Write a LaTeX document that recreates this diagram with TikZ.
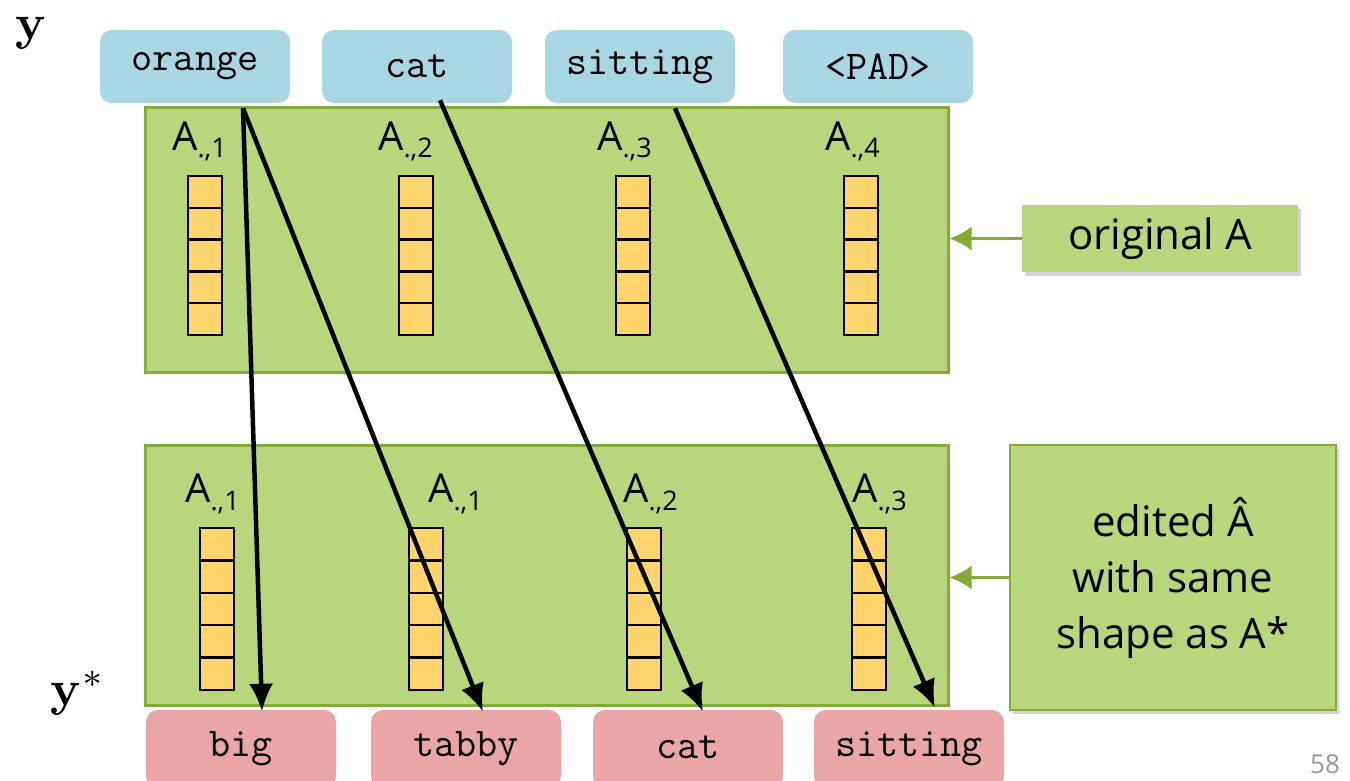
\documentclass[tikz,border=0pt]{standalone}
\usepackage[no-math]{fontspec}
\setmainfont{Open Sans}
\usetikzlibrary{arrows.meta,positioning,shadows}
\definecolor{tokenBlue}{RGB}{169,215,225}
\definecolor{tokenPink}{RGB}{234,166,167}
\definecolor{slideGreen}{RGB}{186,214,125}
\definecolor{edgeGreen}{RGB}{134,170,55}
\definecolor{cellYellow}{RGB}{255,212,108}
\definecolor{pageGray}{RGB}{150,150,150}
\newcommand{\colA}[1]{A\raisebox{-8pt}{\fontsize{27}{27}\selectfont .,#1}}

\begin{document}
\begin{tikzpicture}[x=1pt,y=-1pt,
    token/.style={rounded corners=12pt, minimum width=190pt, minimum height=73pt,
      inner sep=0pt, font=\ttfamily\fontsize{41}{41}\selectfont},
    panel/.style={draw=edgeGreen, line width=3pt, fill=slideGreen, inner sep=0pt},
    cell/.style={draw=black, line width=2.4pt, fill=cellYellow, inner sep=0pt,
      minimum width=34pt, minimum height=32pt},
    colname/.style={anchor=base west, inner sep=0pt, font=\fontsize{40}{40}\selectfont},
    note/.style={fill=slideGreen, inner sep=0pt, align=center,
      font=\fontsize{42}{56}\selectfont,
      drop shadow={shadow xshift=3pt, shadow yshift=-4pt, opacity=0.35}},
    wordArrow/.style={line width=4.5pt, -{Latex[length=28pt,width=24pt]}},
    noteArrow/.style={draw=edgeGreen, line width=3pt, -{Latex[length=22pt,width=24pt]}}]
  \useasboundingbox (0,0) rectangle (1350,781);

  % green panels
  \node[panel, minimum width=803pt, minimum height=264pt] (panelTop) at (546.5,240) {};
  \node[panel, minimum width=803pt, minimum height=260pt] (panelBot) at (546.5,575) {};

  % input tokens y
  \node[token, fill=tokenBlue] (inOrange) at (195,66.5) {orange};
  \node[token, fill=tokenBlue] (inCat) at (417,66.5) {cat};
  \node[token, fill=tokenBlue] (inSitting) at (640,66.5) {sitting};
  \node[token, fill=tokenBlue] (inPad) at (878,66.5) {<PAD>};

  % output tokens y*
  \node[token, fill=tokenPink, minimum height=78pt] (outBig) at (241,749) {\raisebox{4pt}{big}};
  \node[token, fill=tokenPink, minimum height=78pt] (outTabby) at (466,749) {\raisebox{4pt}{tabby}};
  \node[token, fill=tokenPink, minimum height=78pt] (outCat) at (688,749) {\raisebox{4pt}{cat}};
  \node[token, fill=tokenPink, minimum height=78pt] (outSitting) at (909,749) {\raisebox{4pt}{sitting}};

  % columns of A
  \foreach \cx [count=\i] in {205,416,633,861} {
    \foreach \k in {0,...,4}
      \node[cell] (cellT-\i-\k) at (\cx,192+31.8*\k) {};
  }
  \foreach \cx [count=\i] in {217,426,644,869} {
    \foreach \k in {0,...,4}
      \node[cell, minimum height=32.4pt] (cellB-\i-\k) at (\cx,544.2+32.4*\k) {};
  }
  \node[colname] (topA1) at (172,150) {\colA{1}};
  \node[colname] (topA2) at (378,150) {\colA{2}};
  \node[colname] (topA3) at (597,150) {\colA{3}};
  \node[colname] (topA4) at (825,150) {\colA{4}};
  \node[colname] (botA1) at (185,502) {\colA{1}};
  \node[colname] (botA2) at (428,502) {\colA{1}};
  \node[colname] (botA3) at (623,502) {\colA{2}};
  \node[colname] (botA4) at (852,502) {\colA{3}};

  % side notes
  \node[note, minimum width=276pt, minimum height=67pt] (origNote) at (1160,238.5) {original A};
  \node[note, draw=edgeGreen, line width=1.5pt, minimum width=326pt, minimum height=265pt]
    (editNote) at (1173,577.5) {edited \^{A}\\with same\\shape as A*};
  \draw[noteArrow] (origNote.west) -- (origNote.west -| panelTop.east);
  \draw[noteArrow] (editNote.west) -- (editNote.west -| panelBot.east);

  % alignment arrows
  \draw[wordArrow] ([xshift=48pt,yshift=-5pt]inOrange.south) -- ([xshift=21pt,yshift=-2pt]outBig.north);
  \draw[wordArrow] ([xshift=48pt,yshift=-5pt]inOrange.south) -- ([xshift=17pt,yshift=-2pt]outTabby.north);
  \draw[wordArrow] ([xshift=23pt,yshift=3pt]inCat.south) -- ([xshift=15pt,yshift=-2pt]outCat.north);
  \draw[wordArrow] ([xshift=35pt,yshift=-5pt]inSitting.south) -- ([xshift=26pt,yshift=2pt]outSitting.north);

  % sequence labels
  \node[inner sep=0pt] (yLabel) at (31,33) {\scalebox{5}{$\mathbf{y}$}};
  \node[inner sep=0pt] (yStarLabel) at (78,693) {\scalebox{5}{$\mathbf{y}^*$}};
  \node[text=pageGray, font=\fontsize{26}{26}\selectfont] (pageNum) at (1325,764) {58};
\end{tikzpicture}
\end{document}
